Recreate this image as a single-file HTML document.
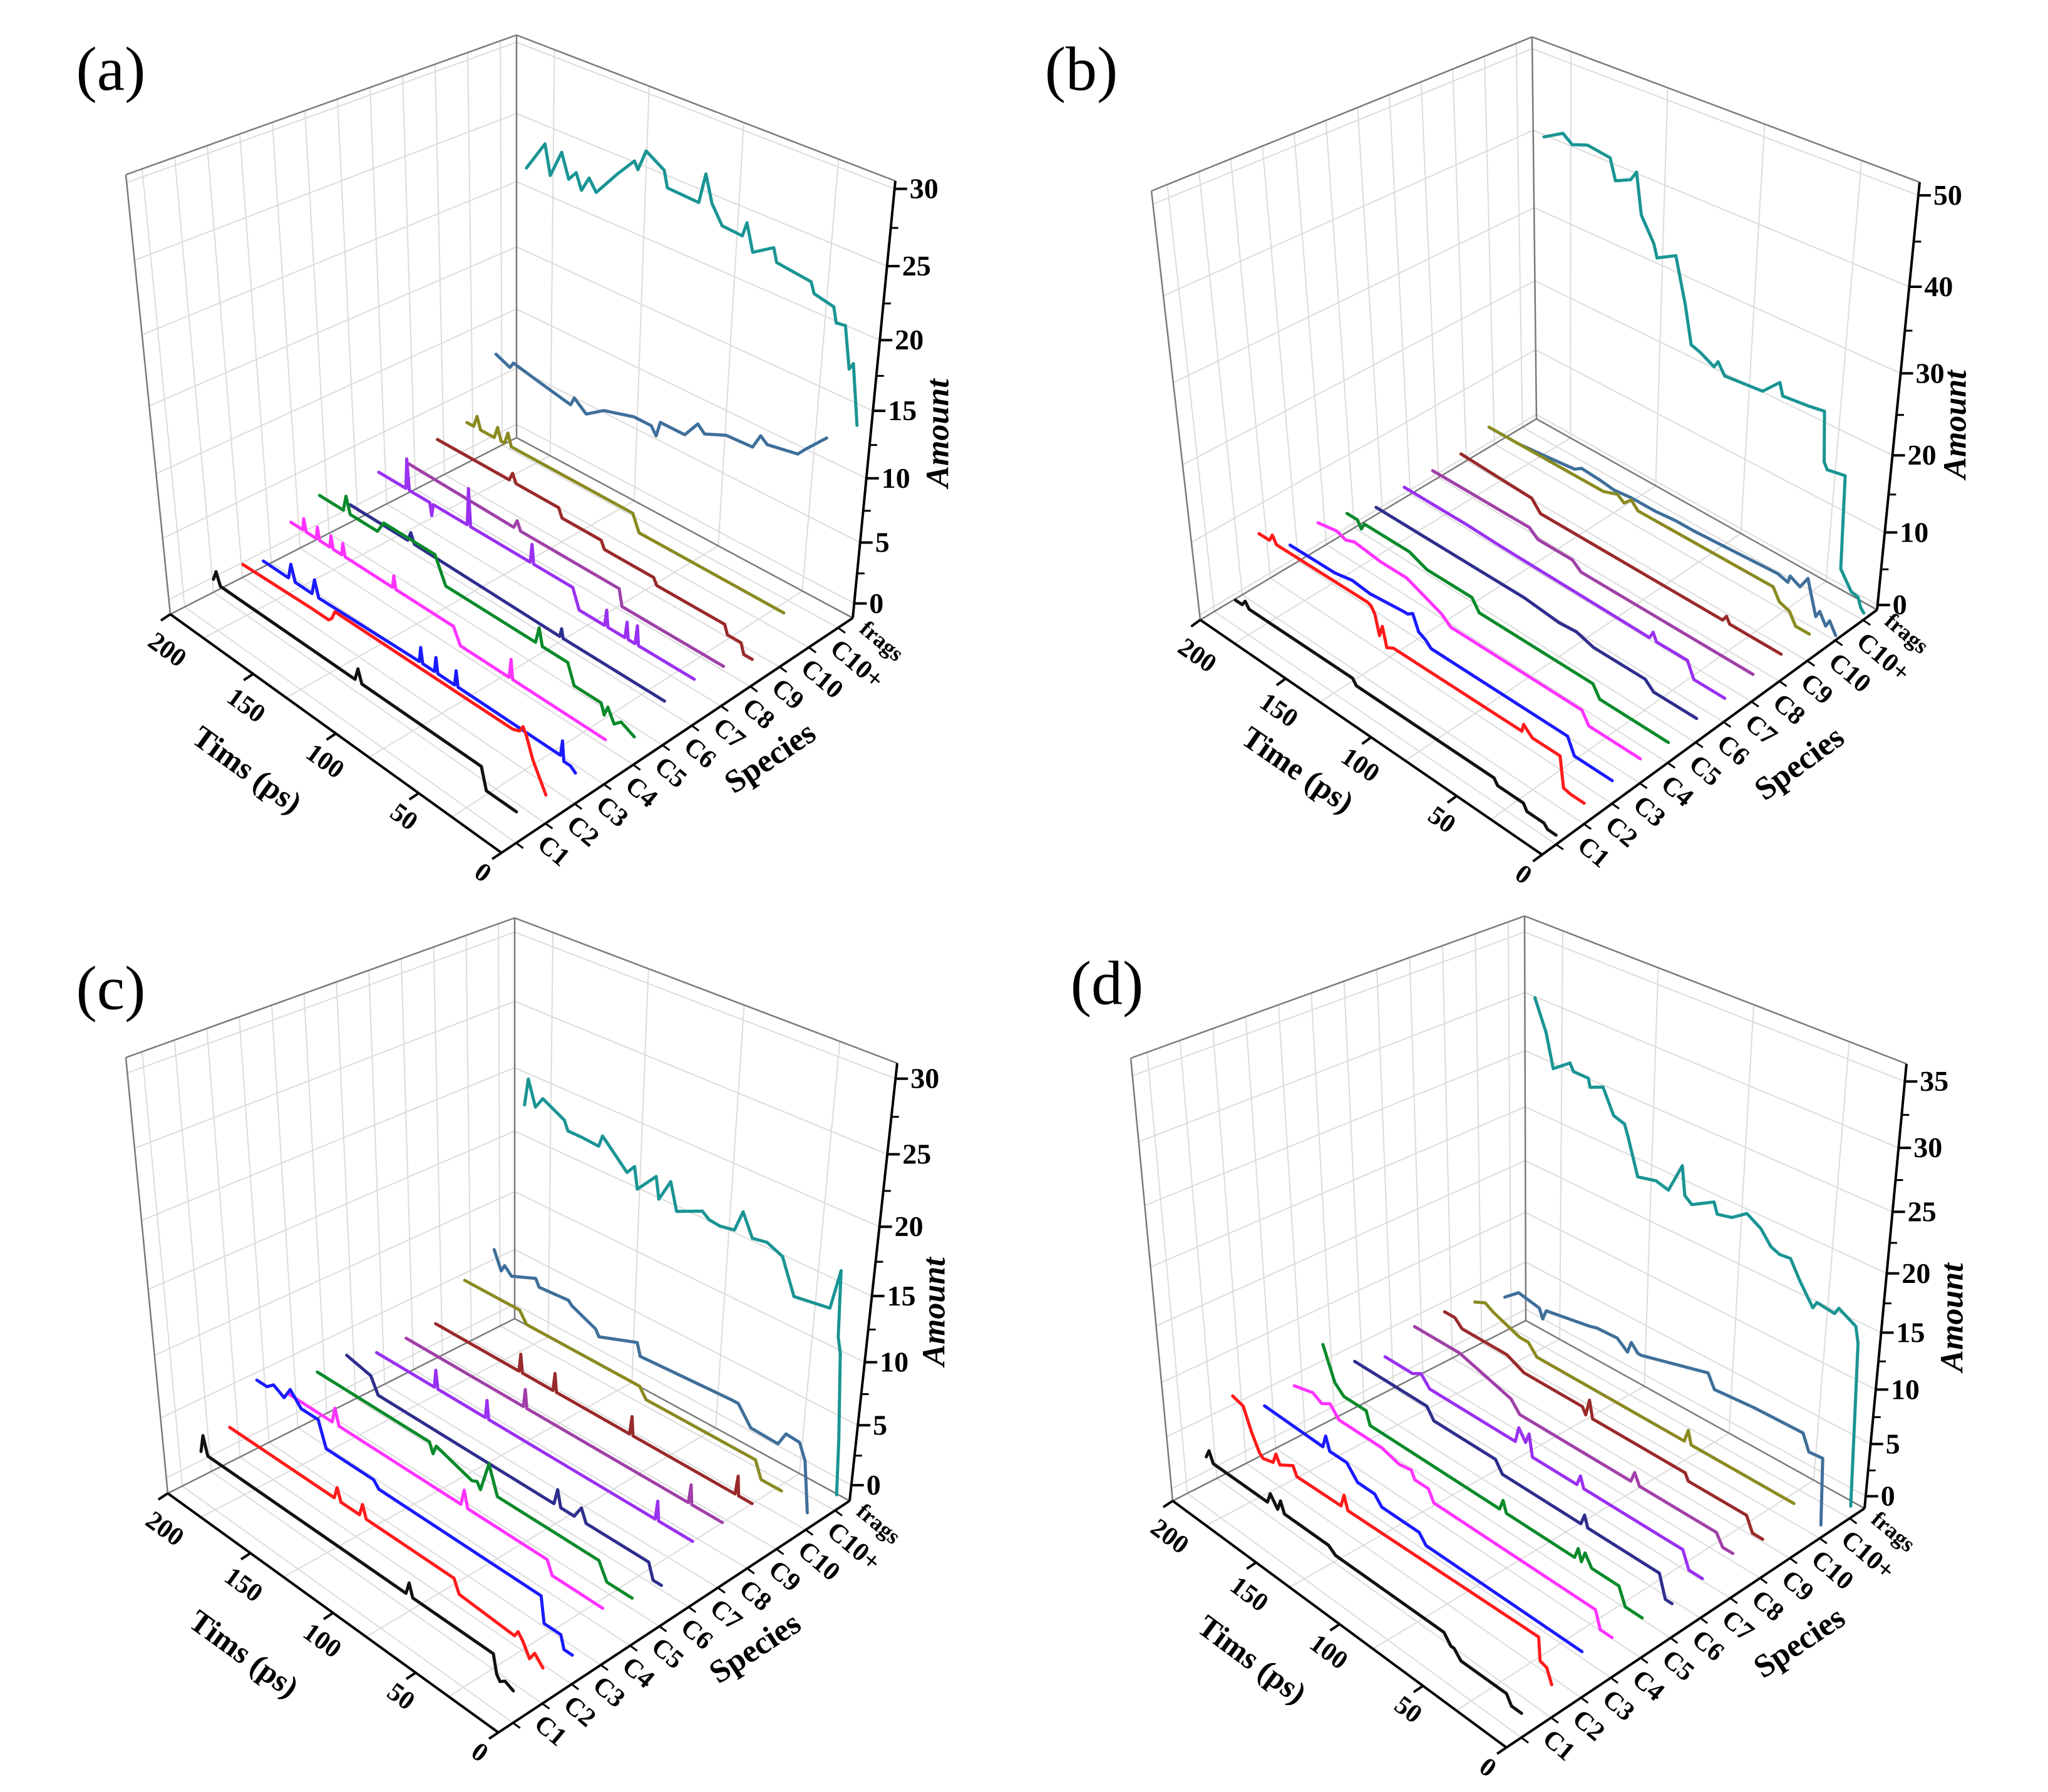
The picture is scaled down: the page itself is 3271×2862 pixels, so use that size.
<!DOCTYPE html>
<html><head><meta charset="utf-8"><title>3D waterfall plots of species amounts over time, panels a to d</title>
<style>html,body{margin:0;padding:0;background:#fff;}svg{display:block;}</style></head>
<body>
<svg id="fig" xmlns="http://www.w3.org/2000/svg" width="3271" height="2862" viewBox="0 0 3271 2862"></svg>
<script>
// ---- data ----
const species = ['C1','C2','C3','C4','C5','C6','C7','C8','C9','C10','C10+','frags'];
const timeTicks = [0,50,100,150,200];

const aTimes = [
 [0,18,21,92,94,96,176,178,180],
 [0,4,8,12,14,16,20,125,127,129,140,180],
 [0,3,7,8,9,70,71,72,82,83,84,91,92,93,153,155,157,167,169,171,186],
 [0,55,56,57,86,90,124,125,126,154,155,156,161,162,163,169,170,171,177,178,179,186],
 [0,8,12,16,18,20,36,40,55,57,59,112,118,148,152,168,170,172,186],
 [0,60,61,62,148,150,152,186],
 [0,33,34,35,39,40,41,51,52,53,68,72,95,96,97,132,133,134,154,155,156,168,169,170,186],
 [0,60,62,120,122,124,186],
 [0,5,7,15,17,57,59,88,90,113,115,140,142,144,186],
 [0,85,89,160,162,164,166,168,170,178,180,182,186],
 [0,11,15,32,36,40,55,67,71,78,92,94,97,107,124,134,141,143,160,176,178,186],
 [0,5,7,11,16,18,29,31,50,52,63,67,69,80,86,90,93,110,112,122,126,128,137,148,152,156,159,163,167,173,176,186]
];
const aVals = [
 [1.2,1.2,2.8,2.8,3.8,2.8,2.8,3.8,3],
 [1.0,2.0,3.0,4.5,5.0,4.5,4.3,4.2,3.5,3.2,3.2,3.0],
 [1.2,1.5,1.5,3,1.8,1.8,3,1.8,1.8,3,1.8,1.8,3,1.8,1.5,2.8,1.5,1.5,2.8,1.5,1.5],
 [2.3,2.3,3.8,2.3,2.3,3.5,3.5,4.5,3.5,3.5,4.5,3.5,3.5,4.5,3.5,3.5,4.5,3.5,3.5,4.5,3.5,3.5],
 [1,1.5,1,2,1.2,2,2,3.5,3.5,4.8,3.5,3.5,5.5,5.5,4.5,4.5,5.8,4.5,4.5],
 [2.3,2.3,3,2.3,2.5,3.3,2.5,2.5],
 [2.5,2.5,4,2.5,2.5,3.8,2.5,2.5,3.8,2.5,2.5,4,4,5.5,4,4,7,4,4,3,4,4,6.5,4,4],
 [2,2,3.3,3.3,4,3.3,3.5],
 [1,1,1.8,1.8,2.5,2.5,3.0,3.0,3.6,3.6,4.3,4.3,5,4.3,4.3],
 [3.2,3.2,4.5,4.5,5.5,4.5,4.5,5.5,4.5,4.5,5.5,4.5,4.5],
 [15.0,13.5,12.9,12.5,12.9,11.8,11.7,11.0,11.5,10.2,10.2,9.0,9.6,9.6,8.9,7.9,8.7,8.0,8.5,9.0,8.5,9.0],
 [14.6,18.7,18.2,21,20.9,21.9,22.2,22.9,23.2,24.1,23.2,25,24,24.1,25.3,27.1,25,25.1,26.2,27,25.5,26,24.6,22.7,23.5,22.4,23.5,22.8,24.5,22.5,24.6,22.3]
];

const bTimes = [
 [0,5,7,17,19,34,36,116,118,178,180,182,186],
 [0,8,12,14,30,35,36,110,114,116,118,120,122,124,176,178,180,186],
 [0,22,26,105,108,112,115,118,120,140,150,160,186],
 [0,30,34,110,115,125,135,150,165,170,175,186],
 [0,40,44,110,114,140,145,150,176,178,180,186],
 [0,25,30,60,70,80,100,186],
 [0,18,22,40,42,44,130,150,186],
 [0,100,105,125,130,140,186],
 [0,30,32,34,140,145,186],
 [0,8,12,18,22,100,104,108,112,120,186],
 [0,4,6,10,12,16,18,22,28,29,35,83,94,106,120,130,138,149,153,169,186],
 [0,2,4,8,12,15,17,27,29,31,40,54,56,65,86,90,92,100,105,109,115,125,127,134,137,140,148,151,163,171,176,186]
];
const bVals = [
 [0.5,0.5,1,1,1.8,1.8,2.5,2.5,3.2,3.2,4,3.2,3.2],
 [2,2,2.2,6,6,7,6,6,5.5,8,6.5,9,9.8,10,10,11,10,10],
 [2.3,2.3,4.3,4.3,5,5.5,7.5,7,7,6.5,6.8,6.3,6.2],
 [2.5,2.5,4,4,5,6,7,7,7.5,7,7.5,7],
 [2,2,3.5,3.5,5,5,5.5,6,6,5,6,6],
 [2.5,2.5,3.5,3.5,4.2,4,4.5,4.5],
 [2.5,2.5,4.5,4.5,5.5,4.5,4.8,5,5],
 [3,3,4,4,5,5,5],
 [3,3,3.8,3,3,4.5,5],
 [3,3,4.5,5,6.5,6.5,7.5,6.5,7.2,6.5,6.5],
 [0,1.5,0.5,2.0,1.0,4.0,5.5,3.8,4.5,3.5,3.9,3.3,3.3,3.0,3.0,2.7,3.0,3.2,2.5,2.0,1.5],
 [0.3,0.8,2,2.2,3.5,4.5,16.7,16.3,17.1,23.3,23,22.7,24.2,22.1,21.7,23.1,22.2,23.2,23.6,28.3,33.8,32.5,34.1,36.9,41.8,40.6,39.7,42.2,42.6,41.9,42.8,41.4]
];

const cTimes = [
 [0,5,8,10,12,60,62,64,182,184,186],
 [0,5,8,12,15,17,50,53,105,107,109,120,122,124,186],
 [0,5,7,17,19,115,118,146,150,160,166,170,176,180,186],
 [0,30,33,80,82,84,156,158,160,186],
 [0,15,20,80,85,90,92,95,116,118,120,186],
 [0,5,8,45,48,52,60,62,64,168,172,186],
 [0,20,21,22,120,121,122,150,151,152,186],
 [0,18,19,20,115,116,117,186],
 [0,8,9,10,70,71,72,115,116,117,135,136,137,186],
 [0,12,16,80,84,150,154,186],
 [0,4,8,16,20,36,44,48,101,103,125,127,141,143,160,162,176,180,182,186],
 [0,2,6,8,10,14,34,42,51,59,65,69,77,83,87,101,105,111,113,123,125,129,143,145,154,158,162,164,176,180,184,186]
];
const cVals = [
 [1.2,1.5,1.2,1.6,3,3,4,3,3,4.5,3],
 [1.5,2.2,1.5,2.5,3,2.5,2.8,3.8,3.8,4.8,3.8,3.8,4.8,3.8,3.8],
 [1,1,2,2,4,4,4.5,4.5,6.5,6.5,7.5,6.5,7,6.5,6.5],
 [3.2,3.2,4.2,4.2,5.5,4.2,4.2,5.5,4.2,4.2],
 [2.5,2.5,3.8,3.8,6,3.5,4,3.8,4.8,4,4.8,4.8],
 [2,2,3.2,3.2,4.2,3.2,3.2,4.5,3.2,3.2,4.5,5],
 [4,4,5.5,4,4,5.5,4,4,5.5,4,4],
 [4,4,5.5,4,4,5.5,4,4],
 [4,4,5.5,4,4,5.5,4,4,5.5,4,4,5.5,4,4],
 [3.5,3.5,4.8,4.8,5.6,5.6,6.5,6.5],
 [0.1,4.1,5.3,5.4,4.3,4.4,5.8,5.8,5.4,6.4,5.2,5.7,6.6,6.9,6.7,7.3,6.4,7,6.4,7.9],
 [0,4.5,11,12.1,16.9,13.9,13.5,16,16.5,16.3,17.9,16.3,16.1,16.2,16.6,15.7,17.7,16,17.6,16,17.6,16.9,18.8,17.9,18,18,18,18.7,19.6,18.7,20.6,18.5]
];

const dTimes = [
 [0,6,9,36,40,42,46,110,114,140,142,144,148,150,182,184,186],
 [0,3,7,8,120,122,124,150,152,160,162,164,170,172,176,180,186],
 [0,92,96,118,122,132,138,148,150,152,186],
 [0,7,10,105,108,116,118,125,135,160,165,170,175,186],
 [0,10,14,30,34,36,38,40,80,82,84,160,162,175,180,182,186],
 [0,4,8,50,52,54,100,104,140,144,186],
 [0,8,12,70,72,74,100,102,104,108,110,160,165,170,186],
 [0,6,10,55,58,60,125,130,140,150,160,186],
 [0,6,10,44,46,100,102,104,106,140,150,176,180,186],
 [0,60,62,64,150,155,160,175,180,186],
 [0,2,10,14,42,65,69,107,109,113,115,121,133,137,162,164,166,178,186],
 [0,2,4,6,16,18,28,30,38,44,50,55,61,69,77,85,87,99,103,105,112,119,129,135,137,143,149,156,157,165,167,176,180,186]
];
const dVals = [
 [1,1,1.8,1.8,2.5,2.5,3.3,3.3,3.8,3.8,4.8,3.8,4.8,3.8,3.8,4.8,4],
 [1.8,3,3.2,5.2,4.8,6,4.8,4.7,5.5,4.7,5.5,4.5,4.2,4.5,6,8,8.3],
 [3,3,3.8,3.8,4.6,4.6,5.8,5.8,7,5.8,6],
 [2.5,2.5,4,4,5,5,5.7,5.5,6,6,7,6.5,7,6.5],
 [2.5,2.5,4,4,5,4,5,4,4,5,4,4,5.2,5.2,6,7,9],
 [2,2,4,4,5,4,4,5,5,6,6],
 [2.5,2.5,4,4,5,4,4,6,5,6,4.5,4.5,5.5,5,5],
 [3,3,4,4,5,4,4,5,5.5,6,6.5,6.5],
 [2.5,2.5,3.8,3.8,4.4,4.4,6,4.4,5,5,5.8,5.8,6.5,6.5],
 [4,4,5.2,4,4,5,5,6,6.5,6],
 [0.1,6.2,6.1,7.5,7.4,7.1,8.3,6.6,6.6,7.3,6.2,7.0,6.9,6.7,5.9,4.9,5.8,6.2,5.0],
 [0,7.5,14.6,15.9,16.7,16.1,16.3,15.7,17.4,18.9,18.8,19.1,20.2,20.9,20,19.7,20.6,19.5,20,22.4,19.8,20.1,19.7,22.8,23.7,24,26,25.5,26.2,26.2,26.8,25.7,28.5,31]
];

const colors = ['#111111','#ff1a1a','#1a1aff','#ff33ff','#0a8a2a','#2e2e8e','#9a30f0','#a040a8','#9a2a2a','#8a8a22','#3f6f9a','#1a9494'];

const panels = [
 {key:'a', label:'(a)', lx:177, ly:110, timeTitle:'Tims (ps)', tt:[395,1229],
  F:[801,1362],L:[272,981],R:[1362,987],B:[825,699],FT:[806,605],LT:[201,279],RT:[1430,289],BT:[825,56],
  zmin:-1.23,zmax:30.5,zticks:[0,5,10,15,20,25,30], sp:[1230,1210], am:[1498,692], times:aTimes, vals:aVals},
 {key:'b', label:'(b)', lx:1727, ly:110, timeTitle:'Time (ps)', tt:[2073,1229],
  F:[2463,1365],L:[1917,990],R:[2998,974],B:[2454,669],FT:[2460,605],LT:[1839,305],RT:[3066,291],BT:[2447,59],
  zmin:-0.7,zmax:51.4,zticks:[0,10,20,30,40,50], sp:[2874,1219], am:[3123,678], times:bTimes, vals:bVals},
 {key:'c', label:'(c)', lx:177, ly:1578, timeTitle:'Tims (ps)', tt:[390,2641],
  F:[796,2767],L:[268,2385],R:[1357,2397],B:[822,2106],FT:[800,2012],LT:[201,1689],RT:[1433,1698],BT:[822,1466],
  zmin:-1.35,zmax:31,zticks:[0,5,10,15,20,25,30], sp:[1206,2632], am:[1492,2095], times:cTimes, vals:cVals},
 {key:'d', label:'(d)', lx:1768, ly:1570, timeTitle:'Tims (ps)', tt:[2000,2650],
  F:[2406,2791],L:[1873,2397],R:[2978,2409],B:[2437,2109],FT:[2410,2021],LT:[1806,1690],RT:[3045,1699],BT:[2435,1463],
  zmin:-1.2,zmax:36.3,zticks:[0,5,10,15,20,25,30,35], sp:[2874,2623], am:[3118,2104], times:dTimes, vals:dVals}
];
const wallGridT = [30,80,130,180];

// ---- drawing ----
const NS='http://www.w3.org/2000/svg';
const svg=document.getElementById('fig');
function el(tag,parent,attrs){const e=document.createElementNS(NS,tag);for(const k in attrs)e.setAttribute(k,attrs[k]);parent.appendChild(e);return e;}
function bil(p,pre,u,v){const F=p[pre[0]],L=p[pre[1]],R=p[pre[2]],B=p[pre[3]];
 return [F[0]*(1-u)*(1-v)+L[0]*u*(1-v)+R[0]*(1-u)*v+B[0]*u*v, F[1]*(1-u)*(1-v)+L[1]*u*(1-v)+R[1]*(1-u)*v+B[1]*u*v];}
function proj(p,t,v,z){const u=t/200;const n=(z-p.zmin)/(p.zmax-p.zmin);const w=n-0.15*n*(1-n);
 const b=bil(p,['F','L','R','B'],u,v),tp=bil(p,['FT','LT','RT','BT'],u,v);
 return [b[0]*(1-w)+tp[0]*w,b[1]*(1-w)+tp[1]*w];}
function spV(i){return (i+0.5)/12;}
function line(g,a,b,stroke,sw){return el('line',g,{x1:a[0].toFixed(1),y1:a[1].toFixed(1),x2:b[0].toFixed(1),y2:b[1].toFixed(1),stroke:stroke,'stroke-width':sw});}
function text(g,x,y,str,size,extra){const t=el('text',g,Object.assign({x:x.toFixed(1),y:y.toFixed(1),'font-family':'"Liberation Serif", serif','font-size':size,'font-weight':'bold',fill:'#000'},extra||{}));t.textContent=str;return t;}

panels.forEach(p=>{
 const g=el('g',svg,{});
 
 
 const grid=el('g',g,{});
 
 
 const GC='#dcdcdc',GW=2;
 for(let i=0;i<12;i++){line(grid,proj(p,200,spV(i),p.zmin),proj(p,200,spV(i),p.zmax),GC,GW);}
 p.zticks.forEach(z=>{line(grid,proj(p,200,0,z),proj(p,200,1,z),GC,GW);line(grid,proj(p,200,1,z),proj(p,0,1,z),GC,GW);});
 wallGridT.forEach(t=>{line(grid,proj(p,t,1,p.zmin),proj(p,t,1,p.zmax),GC,GW);line(grid,proj(p,t,0,p.zmin),proj(p,t,1,p.zmin),GC,GW);});
 for(let i=0;i<12;i++){line(grid,proj(p,0,spV(i),p.zmin),proj(p,200,spV(i),p.zmin),GC,GW);}
 const edges=el('g',g,{});
 
 
 const EC='#7a7a7a',EW=2.5;
 line(edges,p.L,p.LT,EC,EW);line(edges,p.B,p.BT,EC,EW);
 line(edges,p.LT,p.BT,EC,EW);line(edges,p.BT,p.RT,EC,EW);
 line(edges,p.L,p.B,EC,EW);line(edges,p.B,p.R,EC,EW);
 const tAx=line(g,p.L,p.F,'#000',4);
 
 
 const sAx=line(g,p.F,p.R,'#000',4);
 
 
 const zAx=line(g,p.R,p.RT,'#000',4);
 
 
 const zstep=p.zticks[1]-p.zticks[0];
 p.zticks.forEach(z=>{
  const q=proj(p,0,1,z);
  const tk=line(g,q,[q[0]+20,q[1]],'#000',4);
  
  
  const lb=text(g,q[0]+24,q[1]+15,String(z),46,{});
  
  
  const zm=z+zstep/2;
  if(zm<p.zmax){const m=proj(p,0,1,zm);const mt=line(g,m,[m[0]+12,m[1]],'#000',3);
   
   }
 });
 const dx=p.F[0]-p.R[0],dy=p.F[1]-p.R[1],dl=Math.hypot(dx,dy);const ox=dx/dl,oy=dy/dl;
 const ang=Math.atan2(p.F[1]-p.L[1],p.F[0]-p.L[0])*180/Math.PI;
 timeTicks.forEach(t=>{
  const q=proj(p,t,0,p.zmin);
  const tk=line(g,q,[q[0]+ox*18,q[1]+oy*18],'#000',4);
  
  
  const u=t/200;
  const cx=q[0]-30+25*u,cy=q[1]+32+25*u;
  const lb=text(g,cx,cy,String(t),42,{'text-anchor':'middle','dominant-baseline':'central',transform:`rotate(${ang.toFixed(1)} ${cx.toFixed(1)} ${cy.toFixed(1)})`});
  
  
 });
 const ex=p.F[0]-p.L[0],ey=p.F[1]-p.L[1],el2=Math.hypot(ex,ey);const sx=ex/el2,sy=ey/el2;
 species.forEach((s,i)=>{
  const q=proj(p,0,spV(i),p.zmin);
  const tk=line(g,q,[q[0]+sx*14,q[1]+sy*14],'#000',3);
  
  
  const x=q[0]+40,y=q[1]-4;
  const lb=text(g,x,y,s,s==='frags'?36:42,{'dominant-baseline':'central',transform:`rotate(40 ${x.toFixed(1)} ${y.toFixed(1)})`});
  
  
 });
 for(let i=11;i>=0;i--){
  const ts=p.times[i],vs=p.vals[i];
  const pts=ts.map((t,k)=>proj(p,t,spV(i),vs[k]).map(n=>n.toFixed(1)).join(',')).join(' ');
  const pl=el('polyline',g,{points:pts,fill:'none',stroke:colors[i],'stroke-width':5,'stroke-linejoin':'round','stroke-linecap':'round'});
  
  
 }
 const tt=text(g,p.tt[0],p.tt[1],p.timeTitle,50,{'text-anchor':'middle','dominant-baseline':'central',transform:`rotate(${ang.toFixed(1)} ${p.tt[0]} ${p.tt[1]})`});
 
 
 const sang=Math.atan2(p.R[1]-p.F[1],p.R[0]-p.F[0])*180/Math.PI;
 const st=text(g,p.sp[0],p.sp[1],'Species',52,{'text-anchor':'middle','dominant-baseline':'central',transform:`rotate(${sang.toFixed(1)} ${p.sp[0]} ${p.sp[1]})`});
 
 
 const at=text(g,p.am[0],p.am[1],'Amount',52,{'text-anchor':'middle','dominant-baseline':'central','font-style':'italic',transform:`rotate(-90 ${p.am[0]} ${p.am[1]})`});
 
 
 const pl=text(g,p.lx,p.ly,p.label,100,{'text-anchor':'middle','dominant-baseline':'central','font-weight':'normal'});
 
 
});
</script>
</body></html>
